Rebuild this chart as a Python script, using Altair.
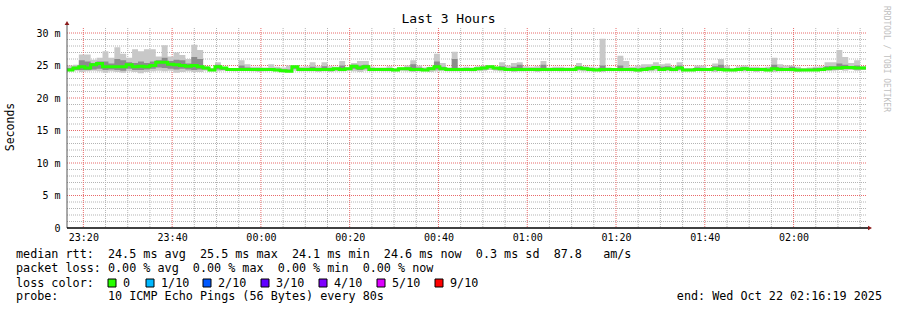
import altair as alt
import pandas as pd

# ---------------- data (ms), one value per 80 s step ----------------
median = [24.3, 24.6, 24.8, 24.6, 25.1, 25.3, 24.8, 24.8, 24.8, 24.8,
          25.1, 24.8, 24.9, 24.8, 25.0, 25.5, 25.5, 25.2, 25.1, 25.0,
          24.9, 25.0, 24.8, 24.6, 24.3, 24.8, 24.6, 24.4, 24.4, 24.4,
          24.4, 24.4, 24.4, 24.4, 24.4, 24.3, 24.2, 24.1, 24.8, 24.4,
          24.4, 24.4, 24.4, 24.4, 24.4, 24.5, 24.4, 24.5, 24.9, 24.6,
          24.8, 24.4, 24.4, 24.4, 24.4, 24.3, 24.5, 24.5, 24.4, 24.4,
          24.3, 24.5, 24.8, 24.5, 24.4, 24.4, 24.4, 24.4, 24.4, 24.5,
          24.6, 24.8, 24.6, 24.5, 24.4, 24.4, 24.4, 24.4, 24.4, 24.4,
          24.4, 24.4, 24.4, 24.4, 24.4, 24.4, 24.6, 24.5, 24.4, 24.3,
          24.4, 24.4, 24.4, 24.4, 24.4, 24.4, 24.3, 24.4, 24.5, 24.7,
          24.4, 24.5, 24.4, 24.6, 24.3, 24.3, 24.4, 24.4, 24.4, 24.5,
          24.4, 24.3, 24.3, 24.4, 24.5, 24.4, 24.4, 24.4, 24.3, 24.5,
          24.4, 24.4, 24.4, 24.3, 24.3, 24.3, 24.3, 24.4, 24.5, 24.6,
          24.6, 24.7, 24.7, 24.6, 24.6]

smoke_max = [25.0, 25.1, 26.7, 26.7, 25.9, 26.2, 27.2, 26.2, 27.8, 26.8,
             26.2, 27.5, 27.2, 27.5, 27.5, 26.4, 28.1, 26.4, 27.0, 26.6,
             26.0, 28.2, 27.4, 24.9, 24.6, 25.5, 24.8, 24.6, 24.6, 25.8,
             25.2, 24.8, 24.8, 24.7, 25.2, 24.8, 24.7, 25.0, 25.0, 24.8,
             24.9, 25.5, 24.9, 25.5, 24.9, 24.8, 25.7, 24.7, 25.4, 25.7,
             25.7, 24.8, 24.7, 24.7, 24.9, 24.6, 24.7, 25.0, 25.8, 25.0,
             24.7, 24.8, 26.8, 25.4, 24.7, 27.1, 24.7, 24.8, 24.7, 24.9,
             25.0, 25.0, 24.8, 25.5, 25.0, 25.4, 25.5, 24.9, 24.8, 24.9,
             25.7, 24.7, 24.8, 24.8, 24.7, 24.7, 25.4, 24.9, 24.8, 24.7,
             29.1, 24.7, 24.6, 26.5, 25.7, 24.8, 25.0, 25.2, 25.2, 25.5,
             25.2, 25.3, 24.9, 25.5, 24.6, 24.6, 25.0, 25.0, 24.6, 25.3,
             26.0, 25.0, 24.6, 24.9, 25.0, 24.8, 24.8, 24.7, 24.8, 26.2,
             25.2, 25.0, 25.0, 24.8, 24.6, 24.7, 24.8, 24.9, 25.5, 25.5,
             27.4, 26.3, 25.4, 25.8, 24.9]

smoke_min = [24.1, 24.2, 24.0, 24.1, 24.2, 24.1, 23.9, 24.1, 24.0, 23.9,
             24.1, 24.0, 23.8, 24.0, 24.1, 24.2, 24.1, 24.2, 23.9, 24.0,
             24.1, 24.0, 24.0, 24.2, 24.1, 24.1, 24.2, 24.2, 24.1, 24.2,
             24.2, 24.1, 24.0, 24.1,
             24.2, 24.1, 24.1, 24.0, 24.2, 24.1, 24.1, 24.1, 24.0, 24.1,
             24.0, 24.1, 24.1, 24.2, 24.1, 24.0, 24.2, 24.1, 24.2, 24.1,
             24.1, 24.1, 24.2, 24.1, 24.0, 24.1, 24.1, 24.0, 24.1, 24.2,
             24.1, 24.1, 24.1, 24.2,
             24.1, 24.2, 24.2, 24.3, 24.2, 24.1, 24.2, 24.0, 24.1, 24.1,
             24.2, 24.0, 24.2, 24.1, 24.2, 24.1, 24.2, 24.2, 24.2, 24.1,
             24.1, 24.2, 24.0, 24.2, 24.2, 24.1, 24.2, 24.1, 24.0, 24.2,
             24.1, 24.2, 24.2,
             24.2, 24.1, 24.2, 24.1, 24.2, 24.2, 24.1, 24.2, 24.0, 24.2,
             24.2, 24.1, 24.2, 24.1, 24.2, 24.0, 24.2, 24.1, 24.0, 24.1,
             24.2, 24.1, 24.0, 24.1, 24.2, 24.2, 24.2, 24.2, 24.2, 24.3,
             24.2, 24.3, 24.2, 24.4]

inner_max = [24.6, 24.8, 25.8, 25.6, 25.4, 25.6, 25.6, 25.3, 26.0, 25.8,
             25.5, 25.4, 25.6, 25.4, 25.6, 25.8, 26.2, 25.7, 25.9, 25.8,
             25.3, 26.3, 26.0, 24.8, 24.5, 25.1, 24.7, 24.5, 24.6, 25.0,
             24.7, 24.6, 24.6, 24.6,
             24.6, 24.5, 24.4, 24.4, 24.9, 24.6, 24.6, 24.8, 24.6, 24.9,
             24.6, 24.6, 25.0, 24.6, 25.1, 25.0, 25.1, 24.6, 24.6, 24.5,
             24.6, 24.4, 24.6, 24.7, 25.2, 24.7, 24.5, 24.7, 25.6, 24.8,
             24.5, 26.0, 24.5, 24.6,
             24.5, 24.6, 24.8, 24.9, 24.7, 24.9, 24.6, 24.8, 25.1, 24.6,
             24.5, 24.6, 25.1, 24.5, 24.6, 24.6, 24.5, 24.5, 24.9, 24.7,
             24.6, 24.5, 25.0, 24.5, 24.5, 25.0, 24.6, 24.6, 24.5, 24.7,
             24.8, 24.9, 24.8,
             24.9, 24.6, 25.0, 24.4, 24.4, 24.7, 24.6, 24.5, 24.9, 25.1,
             24.6, 24.4, 24.6, 24.7, 24.6, 24.6, 24.5, 24.5, 25.1, 24.7,
             24.6, 24.8, 24.5, 24.4, 24.5, 24.6, 24.6, 24.9, 24.9, 25.3,
             25.1, 24.9, 25.0, 24.8]

inner_min = [24.2, 24.3, 24.3, 24.3, 24.4, 24.5, 24.3, 24.4, 24.3, 24.2,
             24.5, 24.3, 24.3, 24.4, 24.5, 24.7, 24.6, 24.5, 24.4, 24.5,
             24.4, 24.3, 24.4, 24.4, 24.2, 24.4, 24.3, 24.3, 24.3, 24.3,
             24.3, 24.3, 24.2, 24.3,
             24.3, 24.2, 24.2, 24.1, 24.5, 24.3, 24.2, 24.3, 24.2, 24.3,
             24.2, 24.3, 24.3, 24.4, 24.5, 24.3, 24.5, 24.3, 24.3, 24.3,
             24.3, 24.2, 24.3, 24.3, 24.2, 24.3, 24.2, 24.3, 24.4, 24.4,
             24.3, 24.2, 24.3, 24.3,
             24.3, 24.3, 24.4, 24.6, 24.4, 24.3, 24.3, 24.2, 24.3, 24.3,
             24.2, 24.2, 24.3, 24.3, 24.3, 24.3, 24.3, 24.3, 24.4, 24.3,
             24.3, 24.2, 24.2, 24.3, 24.3, 24.3, 24.3, 24.3, 24.2, 24.3,
             24.3, 24.5, 24.3,
             24.3, 24.3, 24.4, 24.2, 24.2, 24.3, 24.3, 24.3, 24.3, 24.3,
             24.2, 24.2, 24.3, 24.3, 24.3, 24.3, 24.3, 24.2, 24.3, 24.3,
             24.3, 24.3, 24.2, 24.2, 24.2, 24.2, 24.3, 24.3, 24.4, 24.4,
             24.5, 24.5, 24.4, 24.4]

x_label_minutes = [20, 40, 60, 80, 100, 120, 140, 160, 180]   # minutes after 23:00
y_label_values = [0, 5, 10, 15, 20, 25, 30]

title_text = "Last 3 Hours"
y_title = "Seconds"
watermark = "RRDTOOL / TOBI OETIKER"
legend_lines = [
    "median rtt:  24.5 ms avg  25.5 ms max  24.1 ms min  24.6 ms now  0.3 ms sd  87.8   am/s",
    "packet loss: 0.00 % avg  0.00 % max  0.00 % min  0.00 % now",
    "loss color:",
    "probe:       10 ICMP Echo Pings (56 Bytes) every 80s",
]
end_text = "end: Wed Oct 22 02:16:19 2025"
loss_labels = ["0", "1/10", "2/10", "3/10", "4/10", "5/10", "9/10"]
loss_colors = ["#26ff00", "#00b8ff", "#0059ff", "#5e00ff", "#7e00ff", "#dd00ff", "#ff0000"]

n = len(median)
for arr in (smoke_max, smoke_min, inner_max, inner_min):
    assert len(arr) == n, len(arr)

START = 16 + 19 / 60.0      # 23:16:19
STEP = 80 / 60.0            # 80 s
END = START + 180.0         # 02:16:19

xs = [START + i * STEP for i in range(n)] + [END]
band = pd.DataFrame({
    "t": xs,
    "med": median + [median[-1]],
    "hi": smoke_max + [smoke_max[-1]],
    "lo": smoke_min + [smoke_min[-1]],
    "ihi": inner_max + [inner_max[-1]],
    "ilo": inner_min + [inner_min[-1]],
})

W, H = 799, 200
MONO = "DejaVu Sans Mono"
LEG = 11.75

xscale = alt.Scale(domain=[START, END], nice=False, zero=False)
yscale = alt.Scale(domain=[0, 30.77], nice=False, zero=True)

label_expr_x = ("pad(toString((23 + floor(datum.value / 60)) % 24), 2, '0', 'left') + ':' + "
                "pad(toString(datum.value % 60), 2, '0', 'left')")
xaxis = alt.Axis(values=x_label_minutes, labelExpr=label_expr_x, domain=False, ticks=False,
                 grid=False, labelFont=MONO, labelFontSize=10, labelColor="#000000",
                 labelPadding=4, labelFlush=False, title=None)
yaxis = alt.Axis(values=y_label_values, labelExpr="datum.value == 0 ? '0' : datum.value + ' m'",
                 domain=False, ticks=False, grid=False, labelFont=MONO, labelFontSize=10,
                 labelColor="#000000", labelPadding=7, title=None)


def X(field):
    return alt.X(field, type="quantitative", scale=xscale, axis=xaxis, title=None)


def Y(field):
    return alt.Y(field, type="quantitative", scale=yscale, axis=yaxis, title=None)


minor_x = pd.DataFrame({"g": [m for m in range(20, 197, 5) if m % 20 != 0]})
major_x = pd.DataFrame({"g": x_label_minutes})
minor_y = pd.DataFrame({"g": [v for v in range(1, 31) if v % 5 != 0]})
major_y = pd.DataFrame({"g": [5, 10, 15, 20, 25, 30]})

layers = []
layers.append(alt.Chart(minor_x).mark_rule(color="#b4b4b4", strokeDash=[1, 1], strokeWidth=1)
              .encode(x=X("g")))
layers.append(alt.Chart(minor_y).mark_rule(color="#b4b4b4", strokeDash=[1, 1], strokeWidth=1)
              .encode(y=Y("g")))
layers.append(alt.Chart(major_x).mark_rule(color="#e86a6a", strokeDash=[1, 1], strokeWidth=1)
              .encode(x=X("g")))
layers.append(alt.Chart(major_y).mark_rule(color="#e86a6a", strokeDash=[1, 1], strokeWidth=1)
              .encode(y=Y("g")))

# smoke
layers.append(alt.Chart(band).mark_area(interpolate="step-after", color="#c8c8c8", opacity=1)
              .encode(x=X("t"), y=Y("hi"), y2="lo"))
layers.append(alt.Chart(band).mark_area(interpolate="step-after", color="#8c8c8c", opacity=1)
              .encode(x=X("t"), y=Y("ihi"), y2="ilo"))
# median
layers.append(alt.Chart(band).mark_line(interpolate="step-after", color="#26ff00", strokeWidth=3)
              .encode(x=X("t"), y=Y("med")))

one = pd.DataFrame({"k": [0]})
# axis lines and arrows
layers.append(alt.Chart(one).mark_rule(color="#555555", strokeWidth=1)
              .encode(x=alt.value(0), y=alt.value(-4), y2=alt.value(H)))
layers.append(alt.Chart(one).mark_rule(color="#000000", strokeWidth=1.5)
              .encode(x=alt.value(0), x2=alt.value(W + 3), y=alt.value(H)))
layers.append(alt.Chart(one).mark_point(shape="triangle-up", filled=True, size=22, color="#8b1a1a", opacity=1)
              .encode(x=alt.value(0), y=alt.value(-5)))
layers.append(alt.Chart(one).mark_point(shape="triangle-right", filled=True, size=22, color="#8b1a1a", opacity=1)
              .encode(x=alt.value(W + 4), y=alt.value(H)))

# texts
def text_layer(txt, x, y, size, align="left", angle=0, color="#000000"):
    df = pd.DataFrame({"s": [txt.replace(" ", "\u00a0")]})
    kw = dict(font=MONO, fontSize=size, align=align, baseline="middle", color=color)
    if angle:
        kw["angle"] = angle
    return alt.Chart(df).mark_text(**kw).encode(text="s:N", x=alt.value(x), y=alt.value(y))


layers.append(text_layer(title_text, 381.5, -9, 13, align="center"))
layers.append(text_layer(y_title, -56, 99, 11.5, align="center", angle=270))
layers.append(text_layer(watermark, 819, 31, 8, align="center", angle=90, color="#c0c0c0"))

row_y = [226, 240, 255, 268]
for txt, ry in zip(legend_lines, row_y):
    layers.append(text_layer(txt, -51, ry, LEG))
layers.append(text_layer(end_text, 815, row_y[3], LEG, align="right"))

sq_left = [41, 79, 136, 194, 252, 310, 368]
for lab, col, sx in zip(loss_labels, loss_colors, sq_left):
    layers.append(alt.Chart(one).mark_rect(color=col, stroke="#000000", strokeWidth=1)
                  .encode(x=alt.value(sx), x2=alt.value(sx + 8), y=alt.value(251), y2=alt.value(259)))
    layers.append(text_layer(lab, sx + 15, row_y[2], LEG))

chart = alt.layer(*layers).properties(
    width=W, height=H,
    autosize=alt.AutoSizeParams(type="none"),
    padding={"left": 67, "top": 28, "right": 31, "bottom": 82},
    background="white",
).configure_view(stroke=None)

chart.save("out.html", embed_options={"renderer": "svg", "actions": False})
